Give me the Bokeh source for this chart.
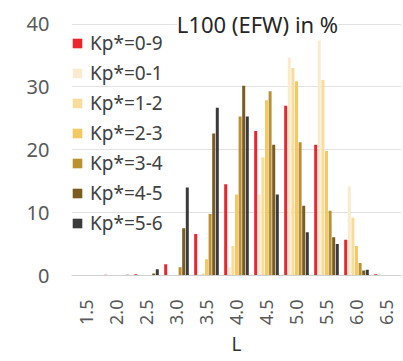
import numpy as np
from bokeh.plotting import figure
from bokeh.models import (ColumnDataSource, FactorRange, Range1d, Legend, LegendItem,
                          Label, FixedTicker)
from bokeh.transform import dodge
from bokeh.embed import file_html
from bokeh.resources import INLINE

# ---- data ----
L_labels = ["1.5", "2.0", "2.5", "3.0", "3.5", "4.0", "4.5", "5.0", "5.5", "6.0", "6.5"]
series_names = ["Kp*=0-9", "Kp*=0-1", "Kp*=1-2", "Kp*=2-3", "Kp*=3-4", "Kp*=4-5", "Kp*=5-6"]
kp09 = [0.0, 0.1, 0.2, 1.8, 6.6, 14.5, 23.0, 27.0, 20.8, 5.7, 0.2]
kp01 = [0.0, 0.0, 0.0, 0.0, 0.0, 1.3, 12.9, 34.7, 37.4, 14.2, 0.3]
kp12 = [0.0, 0.0, 0.0, 0.0, 0.3, 4.7, 18.8, 33.0, 31.1, 9.2, 0.0]
kp23 = [0.0, 0.0, 0.0, 0.0, 2.6, 12.9, 27.9, 30.9, 19.8, 4.7, 0.0]
kp34 = [0.0, 0.0, 0.0, 1.3, 9.8, 25.3, 29.3, 21.2, 10.3, 2.0, 0.0]
kp45 = [0.0, 0.0, 0.3, 7.5, 22.6, 30.2, 20.8, 11.1, 6.1, 0.8, 0.0]
kp56 = [0.0, 0.1, 1.0, 14.0, 26.7, 25.3, 12.9, 6.9, 5.0, 0.9, 0.0]
y_ticks = [0, 10, 20, 30, 40]
colors = ["#E8262C", "#FAEBCF", "#F7DC9C", "#F4C964", "#BA9030", "#7B5B1F", "#3B3B3B"]

FONT = "Noto Sans"
series = [kp09, kp01, kp12, kp23, kp34, kp45, kp56]
keys = ["s%d" % i for i in range(len(series))]
data = {"L": L_labels}
for k, s in zip(keys, series):
    data[k] = s
src = ColumnDataSource(data)

p = figure(width=403, height=361, output_backend="svg", toolbar_location=None,
           x_range=FactorRange(factors=L_labels), y_range=Range1d(0, 42),
           min_border_left=71, min_border_right=2, min_border_top=11, min_border_bottom=86)
p.outline_line_color = None
p.background_fill_color = "white"
p.border_fill_color = "white"

step = 0.12
items = []
for i, (k, c, name) in enumerate(zip(keys, colors, series_names)):
    r = p.vbar(x=dodge("L", (i - 3) * step, range=p.x_range), top=k, width=0.1,
               source=src, fill_color=c, line_color=None)
    items.append(LegendItem(label=name, renderers=[r]))

# axes
p.xgrid.grid_line_color = None
p.ygrid.grid_line_color = "#e2e2e2"
p.ygrid.grid_line_width = 1
p.yaxis.ticker = FixedTicker(ticks=y_ticks)
p.yaxis.axis_line_color = None
p.yaxis.major_tick_line_color = None
p.yaxis.minor_tick_line_color = None
p.yaxis.major_tick_out = 0
p.yaxis.major_label_standoff = 22
p.yaxis.major_label_text_font = FONT
p.yaxis.major_label_text_font_size = "20px"
p.yaxis.major_label_text_color = "#595959"

p.xaxis.axis_line_color = "#d0d0d0"
p.xaxis.major_tick_line_color = None
p.xaxis.major_tick_out = 0
p.xaxis.major_label_orientation = np.pi / 2
p.xaxis.major_label_standoff = 24
p.xaxis.major_label_text_font = FONT
p.xaxis.major_label_text_font_size = "18px"
p.xaxis.major_label_text_color = "#595959"
p.xaxis.axis_label = "L"
p.xaxis.axis_label_text_font = FONT
p.xaxis.axis_label_text_font_size = "19px"
p.xaxis.axis_label_text_font_style = "normal"
p.xaxis.axis_label_text_color = "#333333"
p.xaxis.axis_label_standoff = 3

legend = Legend(items=items, location=(0, 39), orientation="vertical",
                label_text_font=FONT, label_text_font_size="19px", label_text_color="#404040",
                glyph_width=12, glyph_height=12, label_standoff=7, label_height=26,
                spacing=4, padding=0, margin=0,
                background_fill_alpha=0, border_line_alpha=0)
p.add_layout(legend, "center")

title = Label(x=6.2, y=40, text="L100 (EFW) in %", text_align="center", text_baseline="middle",
              text_font=FONT, text_font_size="22px", text_color="#262626",
              background_fill_color="white")
p.add_layout(title)

open("out.html", "w").write(file_html(p, INLINE))
